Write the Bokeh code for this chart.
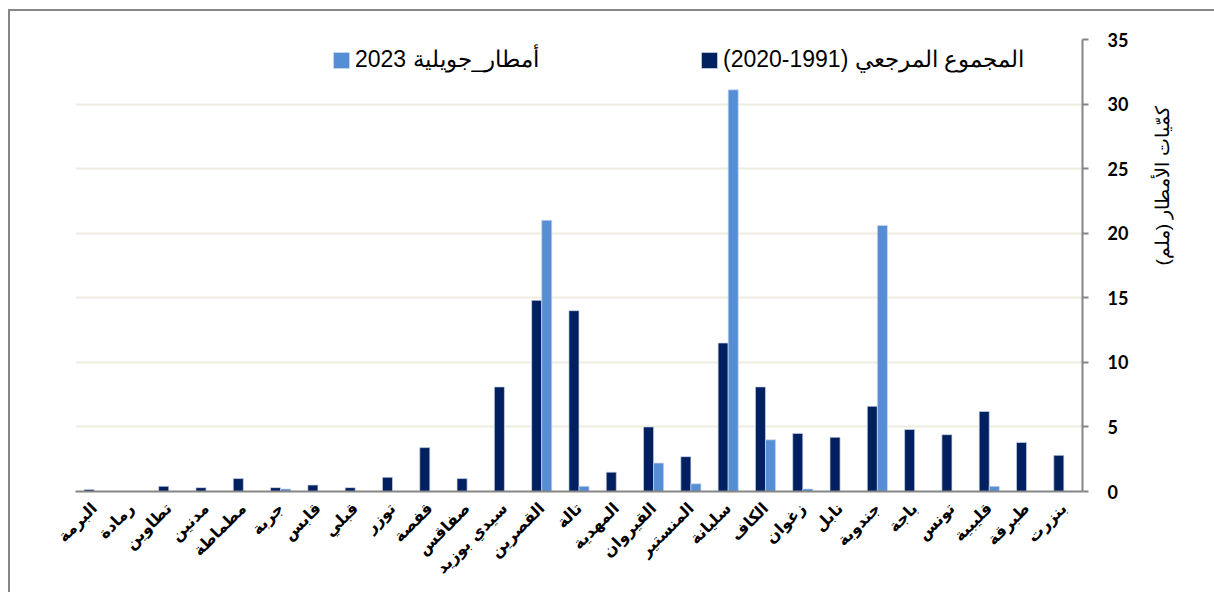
import math
from bokeh.plotting import figure
from bokeh.models import (FactorRange, Range1d, FixedTicker, Legend, LegendItem,
                          ColumnDataSource)
from bokeh.transform import dodge
from bokeh.embed import file_html
from bokeh.resources import INLINE

# Stations, in display order (left to right)
stations = ["البرمة", "رمادة", "تطاوين", "مدنين", "مطماطة", "جربة", "قابس", "قبلي",
            "توزر", "قفصة", "صفاقس", "سيدي بوزيد", "القصرين", "تالة", "المهدية",
            "القيروان", "المنستير", "سليانة", "الكاف", "زغوان", "نابل", "جندوبة",
            "باجة", "تونس", "قليبية", "طبرقة", "بنزرت"]

# Reference totals 1991-2020 (mm)
reference_mm = [0.15, 0.0, 0.4, 0.3, 1.0, 0.3, 0.5, 0.3, 1.1, 3.4, 1.0, 8.1, 14.8, 14.0,
                1.5, 5.0, 2.7, 11.5, 8.1, 4.5, 4.2, 6.6, 4.8, 4.4, 6.2, 3.8, 2.8]

# July 2023 rainfall (mm)
july2023_mm = [0.0, 0.0, 0.0, 0.0, 0.0, 0.2, 0.0, 0.0, 0.0, 0.0, 0.0, 0.0, 21.0, 0.4,
               0.0, 2.2, 0.6, 31.1, 4.0, 0.2, 0.0, 20.6, 0.0, 0.0, 0.4, 0.0, 0.0]

y_ticks = [0, 5, 10, 15, 20, 25, 30, 35]

label_ref = "(2020-1991) المجموع المرجعي"
label_jul = "2023 أمطار_جويلية"
axis_title = "كمّيات الأمطار (ملم)"

DARK = "#002060"
LIGHT = "#558ED5"

src = ColumnDataSource(dict(st=stations, ref=reference_mm, jul=july2023_mm))

p = figure(x_range=FactorRange(factors=stations), y_range=Range1d(0, 35),
           width=1214, height=592, y_axis_location="right",
           output_backend="svg", toolbar_location=None,
           min_border_left=75, min_border_top=39, min_border_right=132,
           min_border_bottom=101)
p.border_fill_color = None
p.background_fill_color = "white"
p.outline_line_color = None
p.styles = {"box-shadow": "inset 8px 9px 0 0 white, inset 10px 11px 0 0 #868686"}

bw = 0.27
r1 = p.vbar(x=dodge("st", -bw / 2, range=p.x_range), top="ref", width=bw, source=src,
            fill_color=DARK, line_color="#d0d8e8", line_width=0.7)
r2 = p.vbar(x=dodge("st", bw / 2, range=p.x_range), top="jul", width=bw, source=src,
            fill_color=LIGHT, line_color="#d0d8e8", line_width=0.7)

# grid
p.xgrid.grid_line_color = None
p.ygrid.grid_line_color = "#EEECE1"
p.ygrid.grid_line_width = 2
p.ygrid.ticker = FixedTicker(ticks=y_ticks)

# y axis (right)
ya = p.yaxis[0]
ya.ticker = FixedTicker(ticks=y_ticks)
ya.axis_line_color = "#868686"
ya.axis_line_width = 2
ya.major_tick_line_color = "#868686"
ya.major_tick_line_width = 2
ya.major_tick_out = 6
ya.major_tick_in = 0
ya.minor_tick_line_color = None
ya.major_label_text_font = "Lato"
ya.major_label_text_font_style = "bold"
ya.major_label_text_font_size = "18px"
ya.major_label_text_color = "black"
ya.major_label_standoff = 19
ya.axis_label = axis_title
ya.axis_label_text_font = "Liberation Sans"
ya.axis_label_text_font_style = "normal"
ya.axis_label_text_font_size = "19px"
ya.axis_label_text_color = "black"
ya.axis_label_standoff = 31
if "axis_label_orientation" in ya.properties():
    ya.axis_label_orientation = math.pi / 2

# x axis
xa = p.xaxis[0]
xa.axis_line_color = "#868686"
xa.axis_line_width = 2
xa.major_tick_line_color = None
xa.minor_tick_line_color = None
xa.major_label_orientation = math.pi / 4
xa.major_label_text_font = "DejaVu Sans"
xa.major_label_text_font_style = "bold"
xa.major_label_text_font_size = "16px"
xa.major_label_text_color = "black"
xa.major_label_standoff = 8

# legends
common = dict(orientation="horizontal", padding=0, margin=0, border_line_alpha=0,
              background_fill_alpha=0, glyph_width=20, glyph_height=20,
              label_standoff=4, label_text_font="Liberation Sans",
              label_text_font_size="23px", label_text_color="black", spacing=0)
leg_jul = Legend(items=[LegendItem(label=label_jul, renderers=[r2])],
                 location=(256, 418), **common)
leg_ref = Legend(items=[LegendItem(label=label_ref, renderers=[r1])],
                 location=(624, 418), **common)
p.add_layout(leg_jul, "center")
p.add_layout(leg_ref, "center")

open("out.html", "w").write(file_html(p, INLINE))
